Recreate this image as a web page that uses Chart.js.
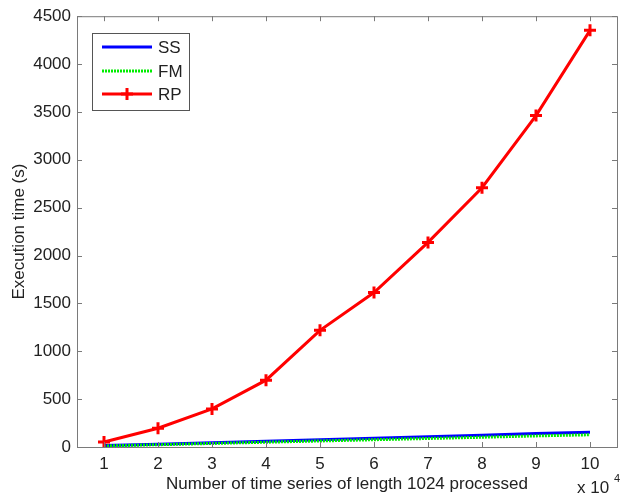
<!DOCTYPE html>
<html>
<head>
<meta charset="utf-8">
<script src="https://cdn.jsdelivr.net/npm/chart.js@4.4.1/dist/chart.umd.min.js"></script>
<style>
  html, body { margin:0; padding:0; background:#fff; }
  #wrap { width:627px; height:497px; position:relative; }
</style>
</head>
<body>
<div id="wrap"><canvas id="c" width="627" height="497"></canvas></div>
<script>
// series (x in units of 10^4)
const counts = [1, 2, 3, 4, 5, 6, 7, 8, 9, 10];
const ssTime = [15, 30, 45, 60, 76, 92, 107, 122, 140, 155];
const fmTime = [11, 24, 37, 50, 63, 76, 89, 102, 116, 128];
const rpTime = [52, 196, 398, 698, 1219, 1613, 2137, 2708, 3462, 4352];
const xTicks = [1, 2, 3, 4, 5, 6, 7, 8, 9, 10];
const yTicks = [0, 500, 1000, 1500, 2000, 2500, 3000, 3500, 4000, 4500];

const FONT = 'Arial, "Liberation Sans", Helvetica, sans-serif';
const pts = arr => counts.map((x, i) => ({ x, y: arr[i] }));

// matlab-style box with inward ticks + exponent label
const boxPlugin = {
  id: 'box',
  afterDraw(chart) {
    const { ctx, chartArea: a, scales } = chart;
    ctx.save();
    ctx.strokeStyle = '#7a7a7a';
    ctx.lineWidth = 1;
    ctx.strokeRect(a.left + 0.5, a.top + 0.5, a.right - a.left, a.bottom - a.top);
    ctx.beginPath();
    const len = 5;
    xTicks.forEach(v => {
      const px = Math.round(scales.x.getPixelForValue(v)) + 0.5;
      ctx.moveTo(px, a.bottom); ctx.lineTo(px, a.bottom - len);
      ctx.moveTo(px, a.top); ctx.lineTo(px, a.top + len);
    });
    yTicks.forEach(v => {
      const py = Math.round(scales.y.getPixelForValue(v)) + 0.5;
      ctx.moveTo(a.left, py); ctx.lineTo(a.left + len, py);
      ctx.moveTo(a.right, py); ctx.lineTo(a.right - len, py);
    });
    ctx.stroke();

    // x 10^4
    ctx.fillStyle = '#222';
    ctx.font = '17px ' + FONT;
    ctx.textBaseline = 'alphabetic';
    ctx.fillText('x 10', 577, 493);
    ctx.font = '11px ' + FONT;
    ctx.fillText('4', 614, 482);

    // legend box
    const lx = 92, ly = 33, lw = 97, lh = 77;
    ctx.fillStyle = '#fff';
    ctx.fillRect(lx, ly, lw, lh);
    ctx.strokeStyle = '#555';
    ctx.strokeRect(lx + 0.5, ly + 0.5, lw, lh);
    const rows = [47, 71, 94];
    chart.data.datasets.forEach((ds, i) => {
      const y = rows[i];
      ctx.save();
      ctx.strokeStyle = ds.borderColor;
      ctx.lineWidth = ds.borderWidth;
      ctx.setLineDash(ds.borderDash || []);
      ctx.beginPath();
      ctx.moveTo(102, y); ctx.lineTo(152, y);
      ctx.stroke();
      if (ds.pointStyle === 'cross') {
        ctx.setLineDash([]);
        ctx.beginPath();
        ctx.moveTo(127, y - 6); ctx.lineTo(127, y + 6);
        ctx.moveTo(121, y); ctx.lineTo(133, y);
        ctx.stroke();
      }
      ctx.restore();
      ctx.fillStyle = '#222';
      ctx.font = '17px ' + FONT;
      ctx.textBaseline = 'middle';
      ctx.fillText(ds.label, 158, y + 1);
    });
    ctx.restore();
  }
};

new Chart(document.getElementById('c'), {
  type: 'line',
  data: {
    datasets: [
      { label: 'SS', data: pts(ssTime), borderColor: '#0000ff', borderWidth: 3, pointRadius: 0, order: 2 },
      { label: 'FM', data: pts(fmTime), borderColor: '#00ee00', borderWidth: 3, borderDash: [2, 1], pointRadius: 0, order: 1 },
      { label: 'RP', data: pts(rpTime), borderColor: '#ff0000', borderWidth: 3, pointStyle: 'cross',
        pointRadius: 6, pointBorderWidth: 3, pointBorderColor: '#ff0000', order: 0 }
    ]
  },
  options: {
    responsive: false,
    animation: false,
    layout: { padding: { left: 0, top: 15, right: 10, bottom: 0 } },
    plugins: { legend: { display: false }, tooltip: { enabled: false } },
    scales: {
      x: {
        type: 'linear', min: 0.5, max: 10.5,
        afterBuildTicks: s => { s.ticks = xTicks.map(v => ({ value: v })); },
        afterFit: s => { s.height = 50; },
        grid: { display: false, drawTicks: false },
        border: { display: false },
        ticks: { font: { family: FONT, size: 17 }, color: '#222', padding: 7, maxRotation: 0,
                 callback: v => String(v) },
        title: { display: true, text: 'Number of time series of length 1024 processed',
                 font: { family: FONT, size: 17 }, color: '#222', padding: { top: 0, bottom: 2 } }
      },
      y: {
        type: 'linear', min: 0, max: 4500,
        afterBuildTicks: s => { s.ticks = yTicks.map(v => ({ value: v })); },
        afterFit: s => { s.width = 77; },
        grid: { display: false, drawTicks: false },
        border: { display: false },
        ticks: { font: { family: FONT, size: 17 }, color: '#222', padding: 6,
                 callback: v => String(v) },
        title: { display: true, text: 'Execution time (s)',
                 font: { family: FONT, size: 17 }, color: '#222', padding: { top: 9, bottom: 0 } }
      }
    }
  },
  plugins: [boxPlugin]
});
</script>
</body>
</html>
